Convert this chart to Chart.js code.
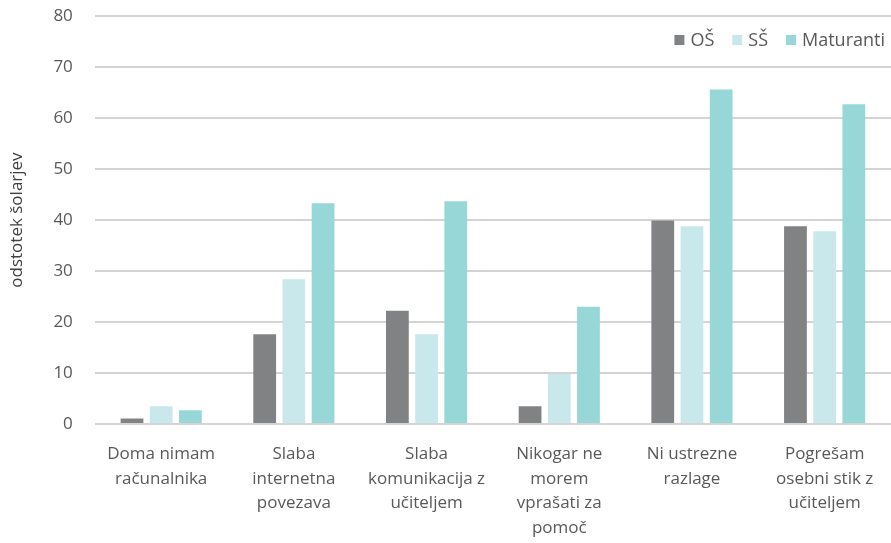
<!DOCTYPE html>
<html>
<head>
<meta charset="utf-8">
<script src="https://cdn.jsdelivr.net/npm/chart.js@4/dist/chart.umd.min.js"></script>
<style>
  html, body { margin: 0; padding: 0; background: #fff; }
  #wrap { width: 891px; height: 543px; }
</style>
</head>
<body>
<div id="wrap"><canvas id="graf"></canvas></div>
<script>
// podatki
var kategorije = [
  ["Doma nimam", "računalnika"],
  ["Slaba", "internetna", "povezava"],
  ["Slaba", "komunikacija z", "učiteljem"],
  ["Nikogar ne", "morem", "vprašati za", "pomoč"],
  ["Ni ustrezne", "razlage"],
  ["Pogrešam", "osebni stik z", "učiteljem"]
];
var os = [1.1, 17.6, 22.2, 3.5, 39.9, 38.8];
var ss = [3.5, 28.4, 17.6, 9.8, 38.8, 37.8];
var maturanti = [2.7, 43.3, 43.7, 23.0, 65.6, 62.7];

var pisava = "'Open Sans', 'Noto Sans', sans-serif";

// legenda v zgornjem desnem kotu, znotraj grafa
var legendaPlugin = {
  id: 'legendaZnotraj',
  afterDraw: function(chart) {
    var c = chart.ctx;
    var sets = chart.data.datasets;
    c.save();
    c.font = "18px " + pisava;
    c.textBaseline = 'middle';
    var y = chart.chartArea.top + 24;
    var x = chart.chartArea.right - 6;
    for (var i = sets.length - 1; i >= 0; i--) {
      var w = c.measureText(sets[i].label).width;
      x -= w;
      c.fillStyle = '#595959';
      c.fillText(sets[i].label, x, y + 1);
      x -= 16;
      c.fillStyle = sets[i].backgroundColor;
      c.fillRect(x, y - 5, 10, 10);
      x -= 18;
    }
    c.restore();
  }
};

var ctx = document.getElementById("graf").getContext("2d");
var graf = new Chart(ctx, {
  type: 'bar',
  data: {
    labels: kategorije,
    datasets: [
      { label: 'OŠ', data: os, backgroundColor: '#808283' },
      { label: 'SŠ', data: ss, backgroundColor: '#c8e8ec' },
      { label: 'Maturanti', data: maturanti, backgroundColor: '#98d7d8' }
    ]
  },
  options: {
    responsive: true,
    maintainAspectRatio: false,
    animation: false,
    layout: { padding: { top: 16, left: 3, right: 0, bottom: -7 } },
    datasets: { bar: { categoryPercentage: 0.66, barPercentage: 0.78 } },
    plugins: {
      tooltip: { enabled: false },
      legend: { display: false }
    },
    scales: {
      x: {
        grid: { display: false },
        border: { display: false },
        ticks: { color: '#595959', font: { family: pisava, size: 17, lineHeight: 1.44 }, maxRotation: 0, autoSkip: false, padding: 10 }
      },
      y: {
        min: 0, max: 80,
        afterFit: function(scale) { scale.paddingTop = 0; },
        ticks: { stepSize: 10, color: '#595959', font: { family: pisava, size: 17 }, padding: 22 },
        grid: { color: '#d4d4d4', lineWidth: 2, drawTicks: false },
        border: { display: false },
        title: { display: true, text: 'odstotek šolarjev', color: '#404040', font: { family: pisava, size: 17 }, padding: 4 }
      }
    }
  },
  plugins: [legendaPlugin]
});
</script>
</body>
</html>
